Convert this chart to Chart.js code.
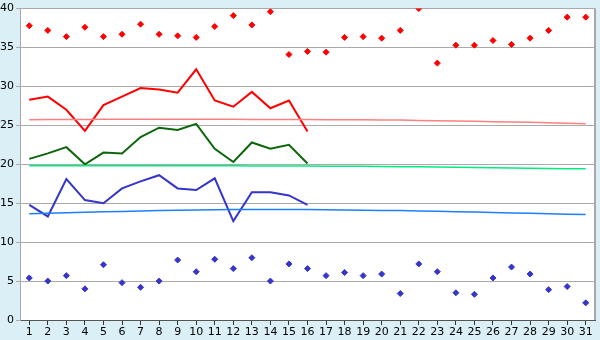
<!DOCTYPE html>
<html>
<head>
<meta charset="utf-8">
<script src="https://cdn.jsdelivr.net/npm/chart.js@4"></script>
<style>
  html, body { margin: 0; padding: 0; background: #daeff6; }
  #wrap { width: 600px; height: 340px; }
</style>
</head>
<body>
<div id="wrap"><canvas id="chart" width="600" height="340"></canvas></div>
<script>
// days of the month
var days = [];
for (var d = 1; d <= 31; d++) days.push(String(d));

// daily highs / lows (scatter diamonds)
var highPoints = [37.8, 37.2, 36.4, 37.6, 36.4, 36.7, 38.0, 36.7, 36.5, 36.3,
                  37.7, 39.1, 37.9, 39.6, 34.1, 34.5, 34.4, 36.3, 36.4, 36.2,
                  37.2, 40.0, 33.0, 35.3, 35.3, 35.9, 35.4, 36.2, 37.2, 38.9, 38.9];
var lowPoints = [5.4, 5.0, 5.7, 4.0, 7.1, 4.8, 4.2, 5.0, 7.7, 6.2,
                 7.8, 6.6, 8.0, 5.0, 7.2, 6.6, 5.7, 6.1, 5.7, 5.9,
                 3.4, 7.2, 6.2, 3.5, 3.3, 5.4, 6.8, 5.9, 3.9, 4.3, 2.2];

// measured curves (first 16 days only)
var redLine = [28.3, 28.7, 27.0, 24.3, 27.6, 28.7, 29.8, 29.6, 29.2, 32.2,
               28.2, 27.4, 29.3, 27.2, 28.2, 24.2];
var greenLine = [20.7, 21.4, 22.2, 20.0, 21.5, 21.4, 23.5, 24.7, 24.4, 25.2,
                 22.0, 20.3, 22.8, 22.0, 22.5, 20.1];
var blueLine = [14.8, 13.3, 18.1, 15.4, 15.0, 16.9, 17.8, 18.6, 16.9, 16.7,
                18.2, 12.7, 16.4, 16.4, 16.0, 14.8];

// long-term reference curves
var pinkRef = [25.72, 25.74, 25.76, 25.77, 25.78, 25.79, 25.79, 25.79, 25.79, 25.79,
               25.78, 25.78, 25.77, 25.76, 25.75, 25.74, 25.73, 25.72, 25.71, 25.70,
               25.68, 25.64, 25.60, 25.56, 25.52, 25.48, 25.44, 25.39, 25.33, 25.26, 25.20];
var greenRef = [19.81, 19.81, 19.81, 19.81, 19.81, 19.81, 19.81, 19.81, 19.81, 19.81,
                19.80, 19.80, 19.79, 19.79, 19.78, 19.77, 19.76, 19.75, 19.74, 19.72,
                19.70, 19.68, 19.66, 19.63, 19.60, 19.57, 19.54, 19.50, 19.47, 19.44, 19.42];
var blueRef = [13.66, 13.70, 13.78, 13.84, 13.90, 13.95, 14.00, 14.05, 14.09, 14.13,
               14.16, 14.18, 14.19, 14.20, 14.20, 14.19, 14.17, 14.14, 14.11, 14.08,
               14.05, 14.01, 13.96, 13.91, 13.86, 13.81, 13.75, 13.70, 13.65, 13.59, 13.54];

// white plot area + right border
var plotFrame = {
    id: 'plotFrame',
    beforeDraw: function(chart) {
        var a = chart.chartArea, c = chart.ctx;
        c.save();
        c.fillStyle = '#ffffff';
        c.fillRect(a.left, a.top, a.right - a.left, a.bottom - a.top);
        c.restore();
    },
    afterDraw: function(chart) {
        var a = chart.chartArea, c = chart.ctx;
        c.save();
        c.strokeStyle = '#a8a8a8';
        c.lineWidth = 2;
        c.beginPath();
        c.moveTo(a.right, a.top);
        c.lineTo(a.right, a.bottom);
        c.stroke();
        c.restore();
    }
};

function lineSet(data, color, width) {
    return {
        data: data,
        borderColor: color,
        backgroundColor: color,
        borderWidth: width,
        pointRadius: 0,
        tension: 0,
        fill: false
    };
}

function dotSet(data, color) {
    return {
        data: data,
        borderColor: color,
        backgroundColor: color,
        showLine: false,
        pointStyle: 'rectRot',
        pointRadius: 3,
        borderWidth: 1
    };
}

Chart.defaults.font.family = '"DejaVu Sans", Verdana, sans-serif';
Chart.defaults.font.size = 11;
Chart.defaults.color = '#000';

new Chart(document.getElementById('chart'), {
    type: 'line',
    data: {
        labels: days,
        datasets: [
            lineSet(pinkRef, '#ff8080', 1.5),
            lineSet(greenRef, '#00ee80', 1.5),
            lineSet(blueRef, '#1a80ff', 1.5),
            lineSet(redLine, '#ff0000', 2),
            lineSet(greenLine, '#0b660b', 2),
            lineSet(blueLine, '#3535cc', 2),
            dotSet(highPoints, '#ff0000'),
            dotSet(lowPoints, '#3535cc')
        ]
    },
    options: {
        responsive: false,
        devicePixelRatio: 1,
        animation: false,
        layout: { padding: { top: 5, right: 5, left: 0, bottom: 0 } },
        plugins: { legend: { display: false }, tooltip: { enabled: false } },
        scales: {
            x: {
                offset: true,
                grid: { display: true, drawOnChartArea: false, drawTicks: true, tickLength: 5, color: '#333' },
                border: { color: '#555', width: 1 },
                ticks: { padding: 1, maxRotation: 0, autoSkip: false },
                afterFit: function(scale) { scale.height = 20; }
            },
            y: {
                min: 0,
                max: 40,
                ticks: { stepSize: 5, padding: 2 },
                grid: { color: '#aaaaaa', tickLength: 4, lineWidth: 1 },
                border: { color: '#a8a8a8', width: 1 },
                afterFit: function(scale) { scale.width = 20; }
            }
        }
    },
    plugins: [plotFrame]
});
</script>
</body>
</html>
